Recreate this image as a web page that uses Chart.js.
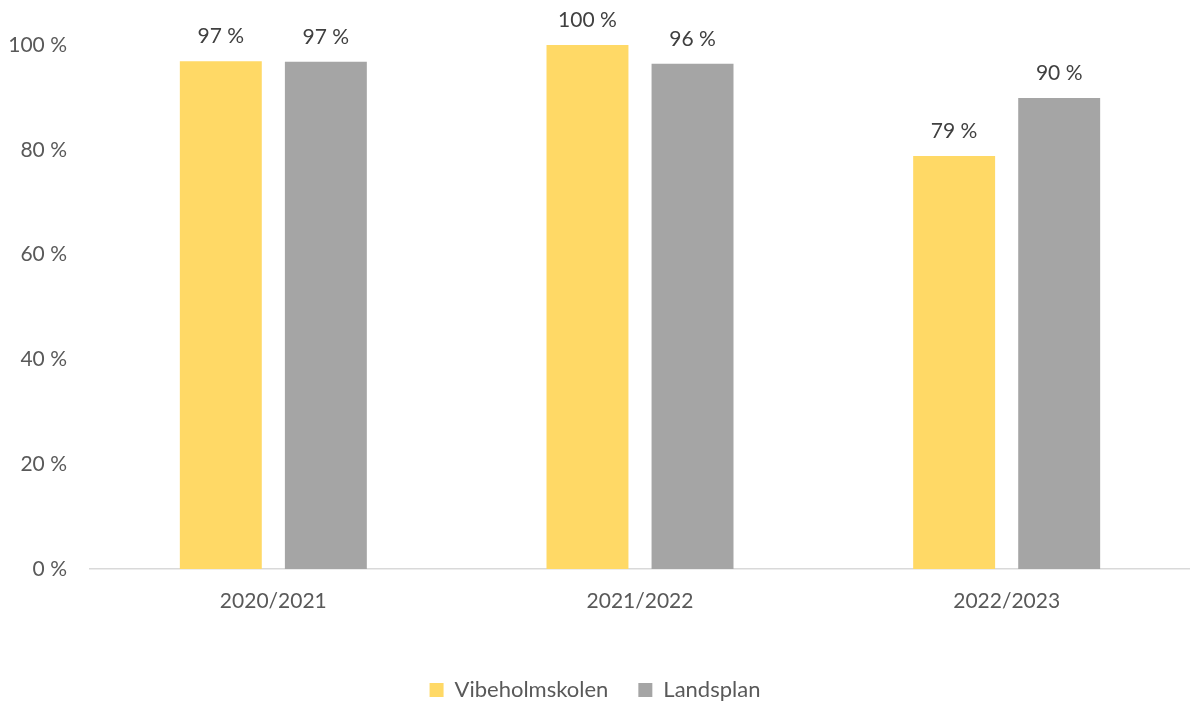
<!DOCTYPE html>
<html>
<head>
<meta charset="utf-8">
<script src="https://cdn.jsdelivr.net/npm/chart.js@4/dist/chart.umd.min.js"></script>
<style>
  html, body { margin: 0; padding: 0; background: #fff; overflow: hidden; }
  #wrap { width: 1190px; height: 702px; }
</style>
</head>
<body>
<div id="wrap"><canvas id="myChart" width="1190" height="702"></canvas></div>
<script>
const categories = ['2020/2021', '2021/2022', '2022/2023']
const vibeholm = [96.9, 100, 78.8]
const landsplan = [96.8, 96.4, 89.9]
const yTicks = [0, 20, 40, 60, 80, 100]

const textColor = '#595959'
const fontFamily = 'Lato, "Open Sans", sans-serif'

// draws the "97 %" labels above each bar
const valueLabels = {
  id: 'valueLabels',
  afterDatasetsDraw: chart => {
    const ctx = chart.ctx
    ctx.save()
    ctx.font = '21px ' + fontFamily
    ctx.fillStyle = '#404040'
    ctx.textAlign = 'center'
    ctx.textBaseline = 'middle'
    chart.data.datasets.forEach((ds, i) => {
      chart.getDatasetMeta(i).data.forEach((bar, j) => {
        ctx.fillText(Math.round(ds.data[j]) + ' %', bar.x, bar.y - 25)
      })
    })
    ctx.restore()
  }
}

const ctx = document.getElementById('myChart').getContext('2d')
new Chart(ctx, {
  type: 'bar',
  data: {
    labels: categories,
    datasets: [{
      label: 'Vibeholmskolen',
      data: vibeholm,
      backgroundColor: '#FFD966'
    }, {
      label: 'Landsplan',
      data: landsplan,
      backgroundColor: '#A5A5A5'
    }]
  },
  options: {
    responsive: false,
    animation: false,
    devicePixelRatio: 1,
    categoryPercentage: 0.573,
    barPercentage: 0.78,
    layout: { padding: { top: 45, left: 0, right: 0, bottom: -9 } },
    plugins: {
      legend: {
        position: 'bottom',
        labels: {
          color: textColor,
          font: { family: fontFamily, size: 22 },
          boxWidth: 14,
          boxHeight: 14,
          padding: 30
        }
      },
      tooltip: { enabled: false }
    },
    scales: {
      x: {
        grid: { display: false, drawTicks: false },
        border: { display: true, color: '#D9D9D9', width: 1.5 },
        ticks: { color: textColor, font: { family: fontFamily, size: 21 }, padding: 20 },
        afterFit: scale => { scale.height = 80 }
      },
      y: {
        min: 0,
        max: 100,
        grid: { display: false, drawTicks: false },
        border: { display: false },
        afterBuildTicks: scale => { scale.ticks = yTicks.map(v => ({ value: v })) },
        afterFit: scale => { scale.width = 90 },
        ticks: {
          color: textColor,
          font: { family: fontFamily, size: 21 },
          padding: 23,
          callback: v => v + ' %'
        }
      }
    }
  },
  plugins: [valueLabels]
})
</script>
</body>
</html>
